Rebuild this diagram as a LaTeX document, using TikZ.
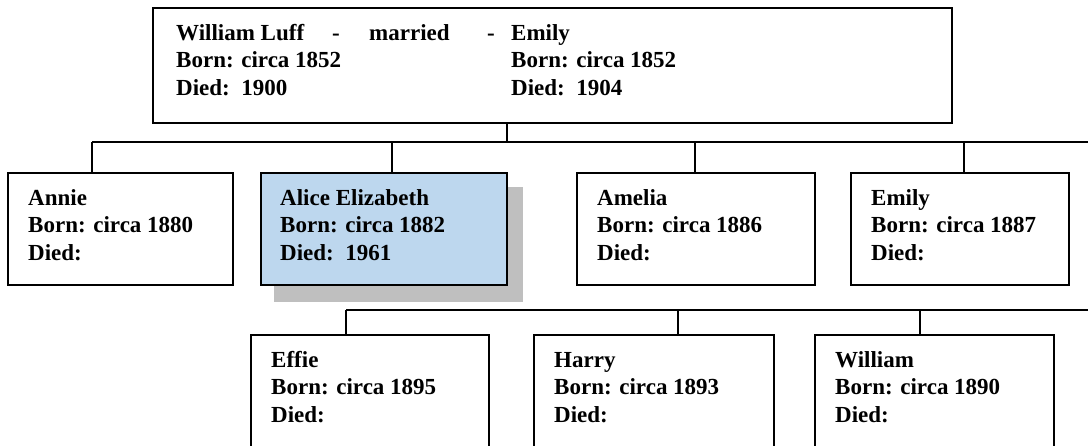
\documentclass[tikz,border=0pt]{standalone}
\usepackage{fontspec}
\setmainfont{Liberation Serif}
\definecolor{boxblue}{RGB}{189,215,238}
\definecolor{shadowgray}{RGB}{191,191,191}
\newcommand{\famlines}[3]{\vtop{\baselineskip=27.5pt\hbox{#1}\hbox{#2}\hbox{#3}}}
\begin{document}
\begin{tikzpicture}[x=1pt,y=-1pt,
  person/.style={draw=black, line width=1.6pt, fill=white, rectangle, anchor=north west, inner sep=0pt, minimum height=112pt},
  txt/.style={anchor=base west, inner sep=0pt, font=\fontsize{23}{27.5}\selectfont\bfseries},
  link/.style={draw=black, line width=1.4pt}]
\useasboundingbox (0,0) rectangle (1088,445);
\clip (0,0) rectangle (1088,445);
\fill[white] (0,0) rectangle (1088,445);

% shadow of the highlighted box
\fill[shadowgray] (274,187) rectangle (523,302);

% boxes
\node[person, minimum width=799pt, minimum height=115pt] (top) at (152,7) {};
\node[person, minimum width=225pt] (annie) at (7,172) {};
\node[person, minimum width=246pt, fill=boxblue] (alice) at (260,172) {};
\node[person, minimum width=238pt] (amelia) at (576,172) {};
\node[person, minimum width=218pt] (emily) at (850,172) {};
\node[person, minimum width=238pt, minimum height=150pt] (effie) at (250,334) {};
\node[person, minimum width=240pt, minimum height=150pt] (harry) at (533,334) {};
\node[person, minimum width=239pt, minimum height=150pt] (william) at (814,334) {};

% texts
\node[txt] (topL) at (176,40) {\famlines{William Luff}{Born: circa 1852}{Died:\ \ 1900}};
\node[txt] (dash1) at (332,40) {-};
\node[txt] (married) at (369,40) {married};
\node[txt] (dash2) at (487,40) {-};
\node[txt] (topR) at (511,40) {\famlines{Emily}{Born: circa 1852}{Died:\ \ 1904}};

\node[txt] (tannie) at (28,205) {\famlines{Annie}{Born: circa 1880}{Died:}};
\node[txt] (talice) at (280,205) {\famlines{Alice Elizabeth}{Born: circa 1882}{Died:\ \ 1961}};
\node[txt] (tamelia) at (597,205) {\famlines{Amelia}{Born: circa 1886}{Died:}};
\node[txt] (temily) at (871,205) {\famlines{Emily}{Born: circa 1887}{Died:}};

\node[txt] (teffie) at (271,367) {\famlines{Effie}{Born: circa 1895}{Died:}};
\node[txt] (tharry) at (554,367) {\famlines{Harry}{Born: circa 1893}{Died:}};
\node[txt] (twilliam) at (835,367) {\famlines{William}{Born: circa 1890}{Died:}};

% connectors: first generation
\coordinate (j0) at (507,142);
\coordinate (barL) at (92,142);
\coordinate (barR) at (1088,142);
\draw[link] (top.south -| j0) -- (j0);
\draw[link] (barL) -- (barR);
\coordinate (dannie) at (92,142);
\coordinate (dalice) at (392,142);
\coordinate (damelia) at (695,142);
\coordinate (demily) at (964,142);
\draw[link] (dannie) -- (dannie |- annie.north);
\draw[link] (dalice) -- (dalice |- alice.north);
\draw[link] (damelia) -- (damelia |- amelia.north);
\draw[link] (demily) -- (demily |- emily.north);

% connectors: second row
\coordinate (gbarL) at (346,310);
\coordinate (gbarR) at (1088,310);
\draw[link] (gbarL) -- (gbarR);
\coordinate (deffie) at (346,310);
\coordinate (dharry) at (678,310);
\coordinate (dwilliam) at (920,310);
\draw[link] (deffie) -- (deffie |- effie.north);
\draw[link] (dharry) -- (dharry |- harry.north);
\draw[link] (dwilliam) -- (dwilliam |- william.north);
\end{tikzpicture}
\end{document}
